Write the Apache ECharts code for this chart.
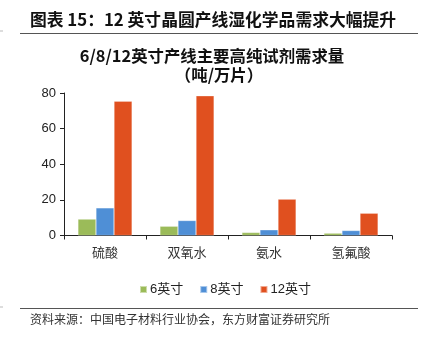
<!DOCTYPE html>
<html>
<head>
<meta charset="utf-8">
<script src="https://cdn.jsdelivr.net/npm/echarts@6/dist/echarts.min.js"></script>
<style>
  html, body { margin: 0; padding: 0; background: #fff; }
  #chart { width: 423px; height: 338px; }
</style>
</head>
<body>
<div id="chart"></div>
<script>
// Demand for high-purity wet chemicals per wafer size (tonnes per 10k wafers)
const categories = ['硫酸', '双氧水', '氨水', '氢氟酸'];
const seriesNames = ['6英寸', '8英寸', '12英寸'];
const inch6 = [9.2, 5.2, 1.7, 1.3];
const inch8 = [15.5, 8.4, 3.2, 2.8];
const inch12 = [75.4, 78.4, 20.4, 12.5];
const yTicks = [0, 20, 40, 60, 80];

const colors = ['#9bbb59', '#4f8fd6', '#e0501f'];
const cjk = '"Noto Sans CJK SC", sans-serif';

const chart = echarts.init(document.getElementById('chart'), null, { renderer: 'canvas' });

const values = [inch6, inch8, inch12];

chart.setOption({
  animation: false,
  backgroundColor: '#fff',
  graphic: [
    { type: 'text', x: 30, y: 20,
      style: { text: '图表 15：12 英寸晶圆产线湿化学品需求大幅提升', font: 'bold 16.8px "Noto Sans CJK SC"', fill: '#111', verticalAlign: 'middle' } },
    { type: 'line', shape: { x1: 20, y1: 33.5, x2: 418, y2: 33.5 }, style: { stroke: '#555', lineWidth: 1.2 } },
    { type: 'line', shape: { x1: 0, y1: 31, x2: 3, y2: 31 }, style: { stroke: '#bbb', lineWidth: 1 } },
    { type: 'text', x: 212, y: 56, style: { text: '6/8/12英寸产线主要高纯试剂需求量', font: 'bold 16.4px "Noto Sans CJK SC"', fill: '#111', align: 'center', verticalAlign: 'middle' } },
    { type: 'text', x: 219, y: 75, style: { text: '（吨/万片）', font: 'bold 16.4px "Noto Sans CJK SC"', fill: '#111', align: 'center', verticalAlign: 'middle' } },
    { type: 'line', shape: { x1: 20, y1: 308.5, x2: 418, y2: 308.5 }, style: { stroke: '#555', lineWidth: 1.2 } },
    { type: 'line', shape: { x1: 0, y1: 307, x2: 3, y2: 307 }, style: { stroke: '#bbb', lineWidth: 1 } },
    { type: 'text', x: 30, y: 319,
      style: { text: '资料来源：中国电子材料行业协会，东方财富证券研究所', font: '12px "Noto Sans CJK SC"', fill: '#333', verticalAlign: 'middle' } }
  ],
  legend: {
    top: 278,
    left: 134,
    itemWidth: 7,
    itemHeight: 7,
    itemGap: 16,
    icon: 'rect',
    textStyle: { fontSize: 13, color: '#222', fontFamily: 'Arial, "Noto Sans CJK SC"', padding: [0, 0, 0, -2] },
    data: seriesNames
  },
  grid: { left: 64, right: 31, top: 93, bottom: 102.5, containLabel: false },
  xAxis: {
    type: 'category',
    data: categories,
    axisLine: { lineStyle: { color: '#222', width: 1 } },
    axisTick: { show: true, lineStyle: { color: '#222' }, length: 4 },
    axisLabel: { fontSize: 13, color: '#333', fontFamily: cjk, margin: 10 }
  },
  yAxis: {
    type: 'value',
    min: yTicks[0],
    max: yTicks[yTicks.length - 1],
    interval: 20,
    splitLine: { show: false },
    axisLine: { show: true, lineStyle: { color: '#222', width: 1 } },
    axisTick: { show: true, lineStyle: { color: '#222' }, length: 4 },
    axisLabel: { fontSize: 13, color: '#222', fontFamily: 'Arial, "Liberation Sans"', margin: 8 }
  },
  series: seriesNames.map((name, i) => ({
    name,
    type: 'bar',
    data: values[i],
    barGap: '0%',
    barCategoryGap: '34%',
    itemStyle: { color: colors[i], borderColor: 'rgba(255,255,255,0.5)', borderWidth: 0.5 }
  }))
});
</script>
</body>
</html>
